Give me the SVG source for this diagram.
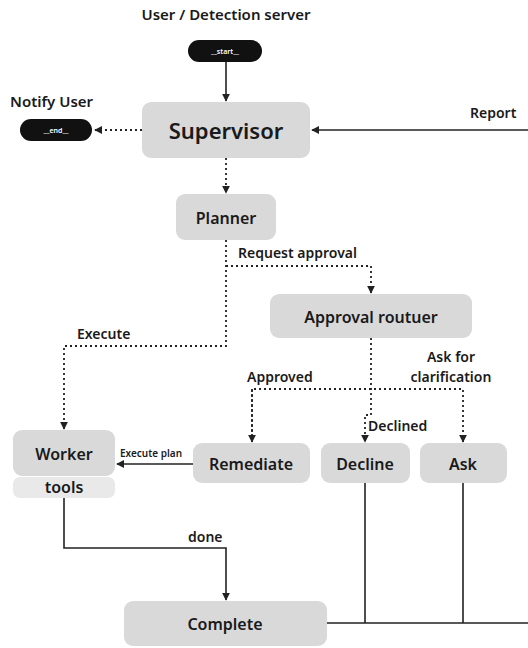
<svg xmlns="http://www.w3.org/2000/svg" width="528" height="648" viewBox="0 0 528 648">
<style>
text{font-family:"Noto Sans","DejaVu Sans",sans-serif;fill:#1a1a1a;font-weight:600}
.box{fill:#d9d9d9}
.tools{fill:#e9e9e9}
.term{fill:#111}
.lbl{font-size:14px}
.nl{font-size:16px;text-anchor:middle;dominant-baseline:central}
.solid{fill:none;stroke:#222;stroke-width:1.6}
.dot{fill:none;stroke:#222;stroke-width:1.8;stroke-dasharray:2 3}
</style>
<defs>
<marker id="ah" viewBox="0 0 10 10" refX="9" refY="5" markerWidth="8" markerHeight="8" markerUnits="userSpaceOnUse" orient="auto"><path d="M0,0 L10,5 L0,10 z" fill="#222"/></marker>
</defs>
<rect width="528" height="648" fill="#fff"/>
<g id="connectors">
<path class="solid" d="M226,62 V101" marker-end="url(#ah)"/>
<path class="dot" d="M142,130 H95" marker-end="url(#ah)"/>
<path class="solid" d="M528,130 H312" marker-end="url(#ah)"/>
<path class="dot" d="M226,158 V193" marker-end="url(#ah)"/>
<path class="dot" d="M226,240 V346 H64 V429" marker-end="url(#ah)"/>
<path class="dot" d="M226,266 H371 V293" marker-end="url(#ah)"/>
<path class="dot" d="M371,338 V415 H365 V442" marker-end="url(#ah)"/>
<path class="dot" d="M252,442 V389 H463 V442" marker-end="url(#ah)"/>
<path class="dot" d="M252,389 V442" marker-end="url(#ah)"/>
<path class="solid" d="M193,464 H117" marker-end="url(#ah)"/>
<path class="solid" d="M64,497 V548 H226 V600" marker-end="url(#ah)"/>
<path class="solid" d="M365,483 V623 M463,483 V623 M327,623 H528"/>
<text class="lbl" x="238" y="258">Request approval</text>
<text class="lbl" x="77" y="339">Execute</text>
<text class="lbl" x="247" y="382">Approved</text>
<text class="lbl" x="451" y="362" text-anchor="middle">Ask for</text>
<text class="lbl" x="451" y="382" text-anchor="middle">clarification</text>
<text class="lbl" x="368" y="431">Declined</text>
<text x="120" y="457" style="font-size:10px">Execute plan</text>
<text class="lbl" x="188" y="542">done</text>
<text class="lbl" x="470" y="118">Report</text>
</g>
<g id="start">
<text x="226" y="20" text-anchor="middle" style="font-size:15px">User / Detection server</text>
<rect class="term" x="188" y="40" width="74" height="22" rx="11"/>
<text x="225" y="54" text-anchor="middle" style="font-size:7px;fill:#fff">__start__</text>
</g>
<g id="end">
<text x="10" y="107" style="font-size:15px">Notify User</text>
<rect class="term" x="20" y="119" width="72" height="22" rx="11"/>
<text x="56" y="133" text-anchor="middle" style="font-size:7px;fill:#fff">__end__</text>
</g>
<g id="supervisor">
<rect class="box" x="142" y="102" width="168" height="56" rx="9"/>
<text class="nl" x="226" y="130" style="font-size:22px">Supervisor</text>
</g>
<g id="planner">
<rect class="box" x="176" y="194" width="100" height="46" rx="9"/>
<text class="nl" x="226" y="218">Planner</text>
</g>
<g id="approval">
<rect class="box" x="270" y="294" width="202" height="44" rx="9"/>
<text class="nl" x="371" y="317">Approval routuer</text>
</g>
<g id="worker">
<rect class="box" x="13" y="430" width="102" height="46" rx="9"/>
<text class="nl" x="64" y="454">Worker</text>
<rect class="tools" x="13" y="477" width="102" height="21" rx="7"/>
<text class="nl" x="64" y="487">tools</text>
</g>
<g id="remediate">
<rect class="box" x="193" y="443" width="117" height="40" rx="9"/>
<text class="nl" x="251" y="464">Remediate</text>
</g>
<g id="decline">
<rect class="box" x="321" y="443" width="89" height="40" rx="9"/>
<text class="nl" x="365" y="464">Decline</text>
</g>
<g id="ask">
<rect class="box" x="420" y="443" width="87" height="40" rx="9"/>
<text class="nl" x="463" y="464">Ask</text>
</g>
<g id="complete">
<rect class="box" x="124" y="601" width="203" height="45" rx="9"/>
<text class="nl" x="225" y="624">Complete</text>
</g>
</svg>
